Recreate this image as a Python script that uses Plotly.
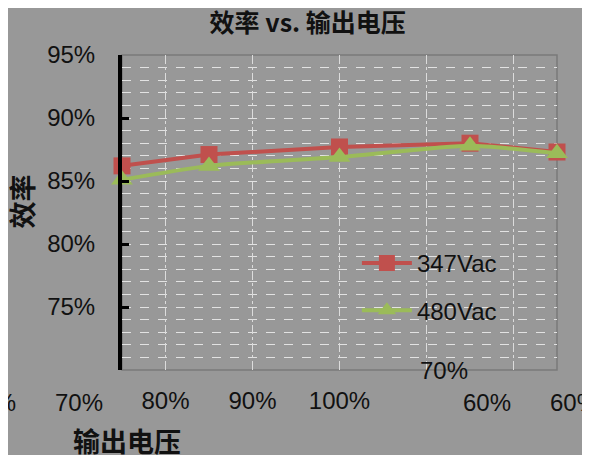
import plotly.graph_objects as go

# output voltage (%) and efficiency per input line
output_voltage = [75, 85, 100, 115, 125]
eff_347 = [0.862, 0.871, 0.877, 0.880, 0.873]
eff_480 = [0.851, 0.862, 0.869, 0.878, 0.872]
series_names = ["347Vac", "480Vac"]

x_range = [75, 125]
x_ticks = [80, 90, 100, 110, 120]
x_tick_text = ["80%", "90%", "100%", "", ""]
y_ticks = [0.75, 0.80, 0.85, 0.90, 0.95]

# stray labels (as they appear in the source picture)
extra_labels = [(60, "60%"), (70, "70%"), (117, "60%"), (127, "60%")]

bg = "#989898"
red = "#C0504D"
green = "#9BBB59"
txt = "#111111"
tick_font = dict(family="Liberation Sans", size=24, color=txt)
cjk_font = dict(family="Noto Sans CJK SC", size=27, color=txt)

fig = go.Figure()

fig.add_trace(go.Scatter(
    x=output_voltage, y=eff_347, name=series_names[0], mode="lines+markers",
    line=dict(color=red, width=4),
    marker=dict(symbol="square", size=17, color=red),
    legendgroup="a", cliponaxis=False))

fig.add_trace(go.Scatter(
    x=output_voltage, y=eff_480, name=series_names[1], mode="lines+markers",
    line=dict(color=green, width=4, shape="spline", smoothing=0.6),
    marker=dict(symbol="triangle-up", size=19, color=green),
    legendgroup="b", cliponaxis=False))

# configure layout (page has an 8px body margin, so size is 8px smaller)
fig.update_layout(
    width=582, height=447,
    paper_bgcolor=bg, plot_bgcolor=bg,
    margin=dict(l=114, r=33, t=47, b=85),
    font=tick_font,
    title=dict(text="<b>效率 vs. 输出电压</b>", x=0.515, xanchor="center",
               y=0.966, yanchor="middle",
               font=dict(family="Noto Sans CJK SC", size=25, color=txt)),
    showlegend=True,
    legend=dict(x=0.54, y=0.41, xanchor="left", yanchor="top",
                bgcolor="rgba(0,0,0,0)", traceorder="grouped",
                tracegroupgap=13, itemwidth=50, font=tick_font),
)

fig.update_xaxes(
    range=x_range, tickvals=x_ticks, ticktext=x_tick_text,
    showgrid=True, gridcolor="#dcdcdc", gridwidth=1, griddash="dashdot",
    zeroline=False, showline=False, ticks="", ticklabelstandoff=14,
    tickfont=tick_font)

fig.update_yaxes(
    range=[0.70, 0.95], tickvals=y_ticks, tickformat=".0%",
    showgrid=True, gridcolor="#e2e2e2", gridwidth=1, griddash="dash",
    minor=dict(dtick=0.01, showgrid=True, gridcolor="#e2e2e2", griddash="dash"),
    zeroline=False, showline=True, linecolor="black", linewidth=4,
    ticks="inside", ticklen=7, tickwidth=3, tickcolor="black",
    ticklabelstandoff=18, tickfont=tick_font)

# plot border (top and right)
fig.add_shape(type="rect", xref="paper", yref="paper", x0=0, x1=1, y0=0, y1=1,
              line=dict(color="#7a7a7a", width=1.5), layer="below")


def to_paper(xv):
    return (xv - x_range[0]) / (x_range[1] - x_range[0])


for xv, label in extra_labels:
    fig.add_annotation(x=to_paper(xv), y=0, xref="paper", yref="paper", text=label,
                       showarrow=False, yshift=-32, xanchor="center", yanchor="middle",
                       font=tick_font)

fig.add_annotation(x=to_paper(112), y=0, xref="paper", yref="paper", text="70%",
                   showarrow=False, xanchor="center", yanchor="middle", font=tick_font)

# axis titles
fig.add_annotation(x=-0.232, y=0.535, xref="paper", yref="paper", text="<b>效率</b>",
                   textangle=-90, showarrow=False, xanchor="center", yanchor="middle",
                   font=cjk_font)
fig.add_annotation(x=0.012, y=-0.225, xref="paper", yref="paper", text="<b>输出电压</b>",
                   showarrow=False, xanchor="center", yanchor="middle",
                   font=cjk_font)

fig.write_html("out.html")
